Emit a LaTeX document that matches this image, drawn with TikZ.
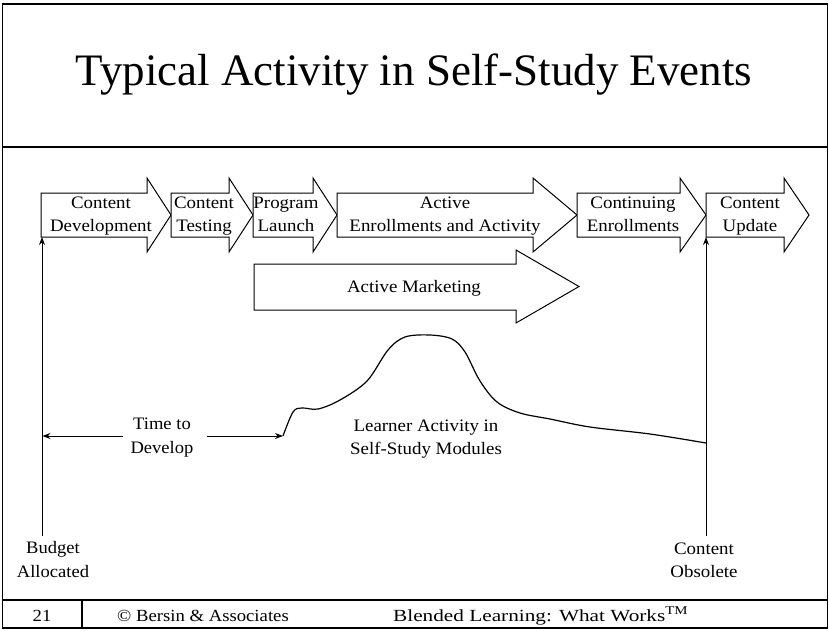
\documentclass[tikz,border=0pt]{standalone}
\usepackage{fontspec}
\setmainfont{Liberation Serif}
\newfontfamily\labelfont{Liberation Serif}[FakeStretch=1.08]
\newfontfamily\narrowlabelfont{Liberation Serif}[FakeStretch=1.06]
\newfontfamily\footfont{Liberation Serif}[FakeStretch=1.1]
\newfontfamily\widefootfont{Liberation Serif}[FakeStretch=1.25]
\usetikzlibrary{arrows.meta}

\tikzset{
  stage/.style={draw=black, line width=1pt, fill=white, line join=miter},
  lbl/.style={font=\labelfont\fontsize{17.5}{23}\selectfont, align=center, inner sep=0pt},
  darklbl/.style={font=\narrowlabelfont\fontsize{17.5}{23.5}\selectfont, align=center, inner sep=0pt},
  foot/.style={font=\footfont\fontsize{17}{20}\selectfont, inner sep=0pt},
  widefoot/.style={font=\widefootfont\fontsize{17}{20}\selectfont, inner sep=0pt},
  marker/.style={line width=1pt, -{Stealth[length=8pt,width=6pt]}},
  rule/.style={line width=1.3pt},
  activity/.style={line width=1.2pt, line join=round}
}

% stage arrow: body from #1 to #2, head from #2 to tip #3 (top row)
\newcommand\stagearrow[3]{%
  \draw[stage] (#1,193) -- (#2,193) -- (#2,178) -- (#3,215) -- (#2,252)
    -- (#2,237) -- (#1,237) -- cycle;}

\begin{document}
\begin{tikzpicture}[x=1pt,y=-1pt]
\useasboundingbox (0,0) rectangle (829,630);

% slide frame, title band and footer
\draw[rule] (2.5,4) rectangle (827.5,628);
\draw[rule] (2.5,147) -- (827.5,147);
\draw[rule] (2.5,600) -- (827.5,600);
\draw[rule] (82,600) -- (82,628);

\node[font=\fontsize{45}{50}\selectfont, anchor=base, inner sep=0pt] (title)
  at (414,85) {Typical Activity in Self-Study Events};

% footer
\node[foot, anchor=base] (page) at (42,621) {21};
\node[foot, anchor=base west] (copy) at (117,621) {\textcopyright\ Bersin \& Associates};
\node[widefoot, anchor=base west] (book) at (393,621) {Blended Learning: What Works\textsuperscript{TM}};

% phases
\stagearrow{41}{147}{171}
\stagearrow{171}{229}{253}
\stagearrow{253}{313}{337}
\stagearrow{337}{533}{577}
\stagearrow{577}{680}{706}
\stagearrow{706}{784}{809}
\draw[stage] (254,264) -- (516,264) -- (516,250) -- (579,286.5) -- (516,323)
  -- (516,310) -- (254,310) -- cycle;

% multi-line labels are placed by the baseline of their last line
\node[lbl, anchor=base] (develop) at (101,231) {Content\\Development};
\node[lbl, anchor=base] (testing) at (204,231) {Content\\Testing};
\node[lbl, anchor=base] (launch) at (286,231) {Program\\Launch};
\node[lbl, anchor=base] (enroll) at (445,231) {Active\\Enrollments and Activity};
\node[lbl, anchor=base] (continuing) at (633,231) {Continuing\\Enrollments};
\node[lbl, anchor=base] (update) at (750,231) {Content\\Update};
\node[lbl, anchor=base] (marketing) at (414,292) {Active Marketing};

% milestones
\coordinate (budgetfoot) at (42,536);
\coordinate (developtail) at (42,237);
\coordinate (obsoletefoot) at (706,536);
\coordinate (updatetail) at (706,237);
\draw[marker] (budgetfoot) -- (developtail);
\draw[marker] (obsoletefoot) -- (updatetail);

\node[darklbl, anchor=base] (budget) at (53,577) {Budget\\Allocated};
\node[lbl, anchor=base] (obsolete) at (704,577) {Content\\Obsolete};

% development span
\coordinate (budgetline) at (42.5,436);
\coordinate (ramp) at (283,436);
\node[darklbl, anchor=base] (timetodevelop) at (162,453) {Time to\\Develop};
\draw[marker] ([xshift=-7pt]timetodevelop.west |- ramp) -- (budgetline);
\draw[marker] ([xshift=13pt]timetodevelop.east |- ramp) -- (ramp);

% learner activity curve
\draw[activity] plot[smooth, tension=0.55] coordinates {
  (283,436) (293,412) (302,408) (318,409) (340,400) (367,381) (388,350)
  (405,337) (430,335) (452,339) (465,352) (480,381) (497,402) (520,413)
  (550,419) (590,427) (650,434) (706,443)};
\node[lbl, anchor=base] (learner) at (426,454) {Learner Activity in\\Self-Study Modules};

\end{tikzpicture}
\end{document}
